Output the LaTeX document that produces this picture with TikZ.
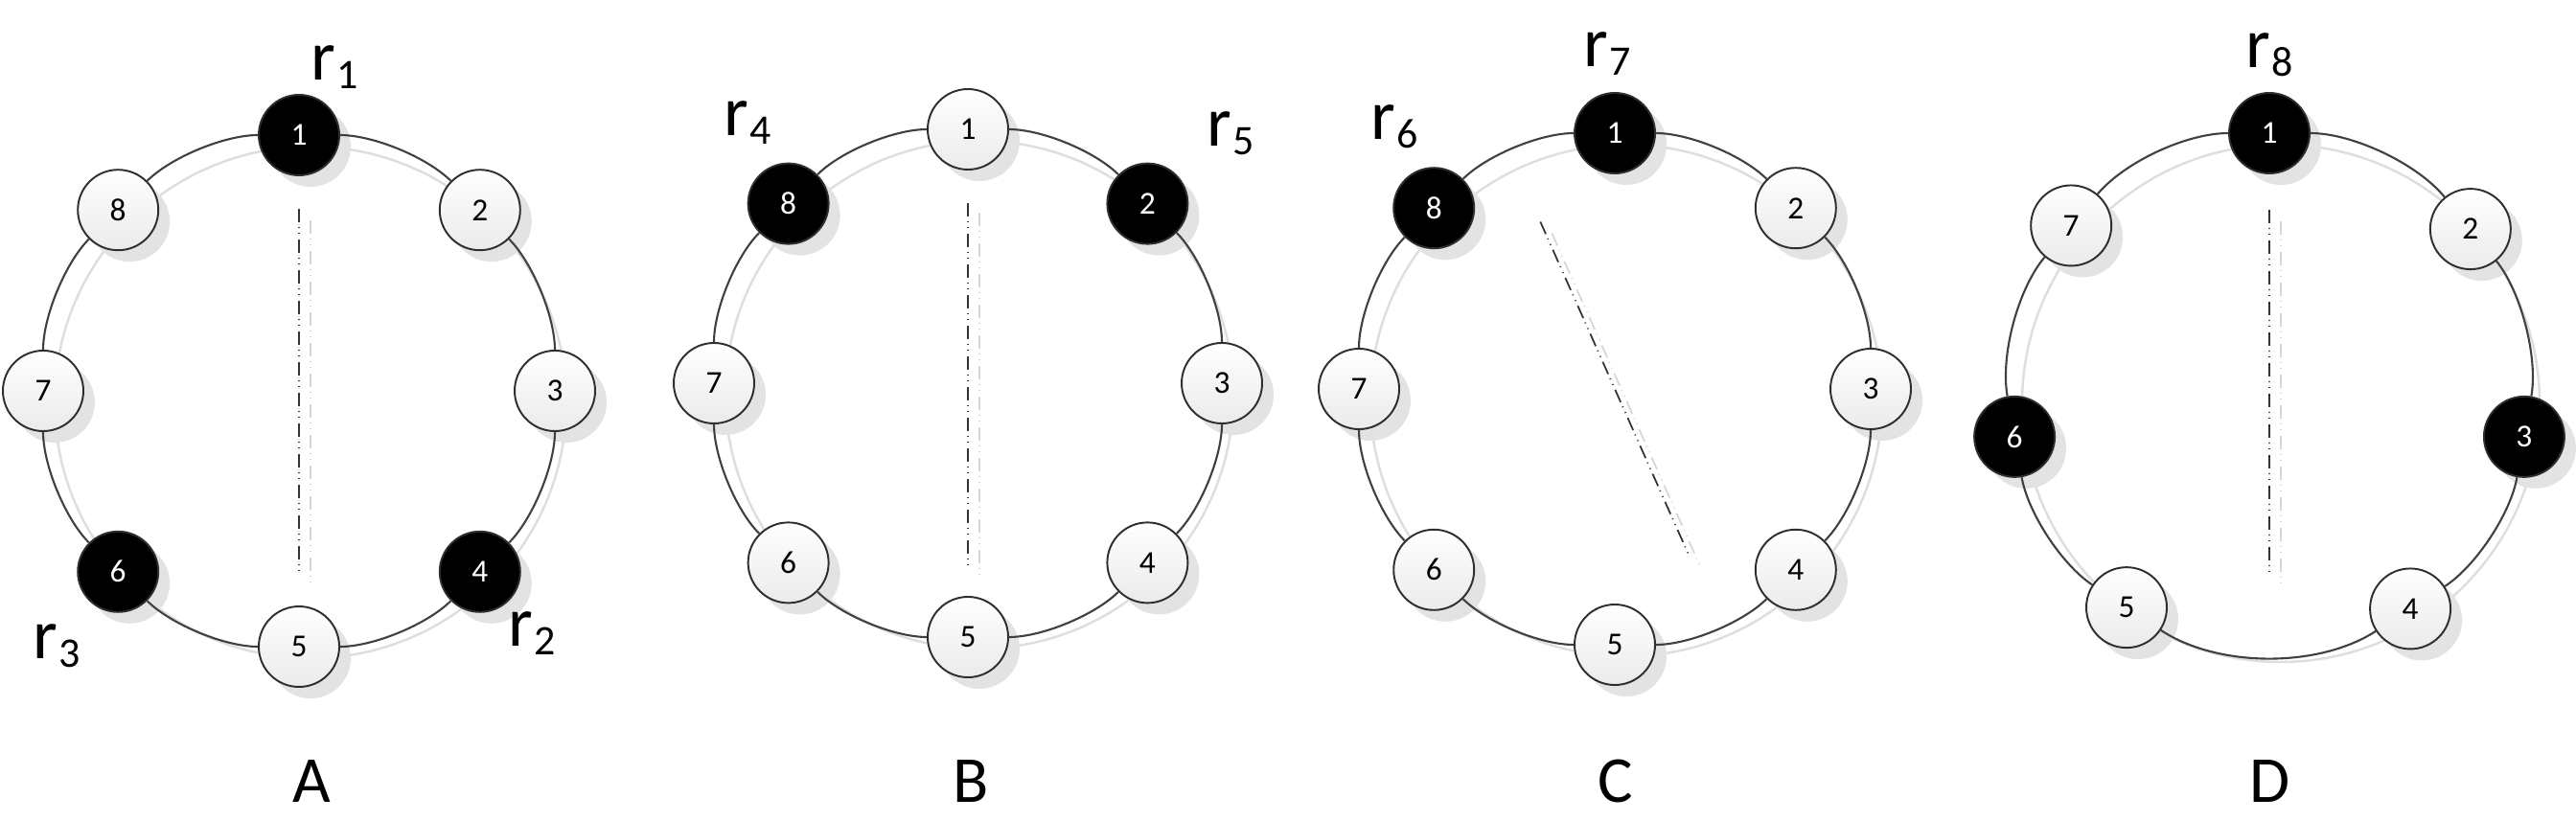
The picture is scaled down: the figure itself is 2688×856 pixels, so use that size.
\documentclass[tikz,border=0pt]{standalone}
\usepackage{fontspec}
\setmainfont{Carlito}
\newcommand{\rlab}[1]{r\kern0.3pt\raisebox{-0.9mm}{\fontsize{12.5}{14}\selectfont #1}}
\begin{document}
\begin{tikzpicture}[x=0.1mm,y=0.1mm,
  nd/.style={circle, draw=black!82, line width=0.55pt, minimum size=8.4mm, inner sep=0pt, font=\fontsize{9.5}{11}\selectfont},
  wn/.style={nd, top color=white, bottom color=black!8},
  bn/.style={nd, fill=black, text=white},
  shfill/.style={fill=black!11},
  ring/.style={draw=black!75, line width=0.6pt},
  ringsh/.style={draw=black!13, line width=0.7pt},
  axis/.style={draw=black!80, line width=0.5pt, dash pattern=on 1.4mm off 0.5mm on 0.1mm off 0.55mm on 0.1mm off 0.55mm},
  axissh/.style={draw=black!16, line width=0.5pt, dash pattern=on 1.4mm off 0.5mm on 0.1mm off 0.55mm on 0.1mm off 0.55mm},
  lbl/.style={anchor=base west, inner sep=0pt, font=\fontsize{21}{24}\selectfont},
  captxt/.style={anchor=base, inner sep=0pt, font=\fontsize{19.5}{22}\selectfont}
]
\useasboundingbox (0,0) rectangle (2688,856);

% ---------------- Panel A ----------------
\begin{scope}[shift={(312,448)}]
  \draw[ringsh] (12,-12) circle[radius=267];
  \draw[axissh] (12,178) -- (12,-202);
  \foreach \a in {90,45,0,-45,-90,-135,180,135}
    \fill[shfill, shift={(12,-12)}] (\a:267) circle[radius=42];
  \foreach \i/\a/\k in {1/90/1,2/45/0,3/0/0,4/-45/1,5/-90/0,6/-135/1,7/180/0,8/135/0}{
    \ifnum\k=1 \node[bn] (A\i) at (\a:267) {\i};\else\node[wn] (A\i) at (\a:267) {\i};\fi
  }
  \foreach \i/\j in {1/2,2/3,3/4,4/5,5/6,6/7,7/8,8/1}
    \draw[ring] (A\i) to[bend left=22.5, looseness=0.71] (A\j);
  \coordinate (At) at (0,190);
  \coordinate (Ab) at (0,-190);
  \draw[axis] (At) -- (Ab);
\end{scope}
\node[lbl] (r1) at (324,772) {\rlab{1}};
\node[lbl] (r2) at (530,182) {\rlab{2}};
\node[lbl] (r3) at (34,169) {\rlab{3}};
\node[captxt] (capA) at (325,19) {A};

% ---------------- Panel B ----------------
\begin{scope}[shift={(1010,456)}]
  \draw[ringsh] (12,-12) circle[radius=265];
  \draw[axissh] (12,178) -- (12,-202);
  \foreach \a in {90,45,0,-45,-90,-135,180,135}
    \fill[shfill, shift={(12,-12)}] (\a:265) circle[radius=42];
  \foreach \i/\a/\k in {1/90/0,2/45/1,3/0/0,4/-45/0,5/-90/0,6/-135/0,7/180/0,8/135/1}{
    \ifnum\k=1 \node[bn] (B\i) at (\a:265) {\i};\else\node[wn] (B\i) at (\a:265) {\i};\fi
  }
  \foreach \i/\j in {1/2,2/3,3/4,4/5,5/6,6/7,7/8,8/1}
    \draw[ring] (B\i) to[bend left=22.5, looseness=0.71] (B\j);
  \coordinate (Bt) at (0,188);
  \coordinate (Bb) at (0,-190);
  \draw[axis] (Bt) -- (Bb);
\end{scope}
\node[lbl] (r4) at (755,714) {\rlab{4}};
\node[lbl] (r5) at (1259,703) {\rlab{5}};
\node[captxt] (capB) at (1013,19) {B};

% ---------------- Panel C ----------------
\begin{scope}[shift={(1685,450)}]
  \draw[ringsh] (12,-12) circle[radius=267];
  \draw[axissh, shift={(12,-12)}] (114:191) -- (294:192);
  \foreach \a in {90,45,0,-45,-90,-135,180,135}
    \fill[shfill, shift={(12,-12)}] (\a:267) circle[radius=42];
  \foreach \i/\a/\k in {1/90/1,2/45/0,3/0/0,4/-45/0,5/-90/0,6/-135/0,7/180/0,8/135/1}{
    \ifnum\k=1 \node[bn] (C\i) at (\a:267) {\i};\else\node[wn] (C\i) at (\a:267) {\i};\fi
  }
  \foreach \i/\j in {1/2,2/3,3/4,4/5,5/6,6/7,7/8,8/1}
    \draw[ring] (C\i) to[bend left=22.5, looseness=0.71] (C\j);
  \coordinate (Ct) at (114:191);
  \coordinate (Cb) at (294:192);
  \draw[axis] (Ct) -- (Cb);
\end{scope}
\node[lbl] (r6) at (1430,710) {\rlab{6}};
\node[lbl] (r7) at (1652,786) {\rlab{7}};
\node[captxt] (capC) at (1686,19) {C};

% ---------------- Panel D ----------------
\begin{scope}[shift={(2368,447)}]
  \draw[ringsh] (12,-12) circle[radius=270];
  \draw[axissh] (12,178) -- (12,-202);
  \foreach \a in {90,39,-10,-57,-123.5,-170,140}
    \fill[shfill, shift={(12,-12)}] (\a:270) circle[radius=42];
  \foreach \i/\a/\k in {1/90/1,2/39/0,3/-10/1,4/-57/0,5/-123.5/0,6/-170/1,7/140/0}{
    \ifnum\k=1 \node[bn] (D\i) at (\a:270) {\i};\else\node[wn] (D\i) at (\a:270) {\i};\fi
  }
  \foreach \i/\j/\b/\l in {1/2/25.5/0.73,2/3/24.5/0.72,3/4/23.5/0.72,4/5/33.25/0.81,5/6/23.25/0.72,6/7/25/0.74,7/1/25/0.74}
    \draw[ring] (D\i) to[bend left=\b, looseness=\l] (D\j);
  \coordinate (Dt) at (0,190);
  \coordinate (Db) at (0,-190);
  \draw[axis] (Dt) -- (Db);
\end{scope}
\node[lbl] (r8) at (2343,785) {\rlab{8}};
\node[captxt] (capD) at (2369,19) {D};
\end{tikzpicture}
\end{document}
